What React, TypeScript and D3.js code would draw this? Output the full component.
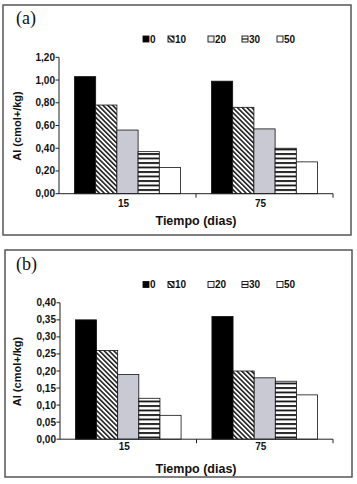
import React from "react";
import * as d3 from "d3";

const categories = ["15", "75"];
const seriesKeys = ["0", "10", "20", "30", "50"];
const valuesA = [
  [1.03, 0.78, 0.56, 0.37, 0.23],
  [0.99, 0.76, 0.57, 0.4, 0.28],
];
const valuesB = [
  [0.35, 0.26, 0.19, 0.12, 0.07],
  [0.36, 0.2, 0.18, 0.17, 0.13],
];
const ticksA = [0, 0.2, 0.4, 0.6, 0.8, 1.0, 1.2];
const ticksB = [0, 0.05, 0.1, 0.15, 0.2, 0.25, 0.3, 0.35, 0.4];

const fills = ["#000", "url(#hatch)", "#c9c9d4", "url(#hstripe)", "#fff"];
const legendFills = ["#000", "url(#hatch)", "#eeeef2", "#fff", "#fff"];
const legendX = [143, 168, 208, 242, 277];
const fmt = (v: number) => d3.format(".2f")(v).replace(".", ",");
const font = "'Liberation Sans', Arial, sans-serif";

type PanelProps = {
  top: number;
  label: string;
  values: number[][];
  ticks: number[];
  border: { x0: number; x1: number; y0: number; y1: number };
  axisX0: number;
  catDy: number;
  titleY: number;
};

function Panel({ top, label, values, ticks, border, axisX0, catDy, titleY }: PanelProps) {
  const yMax = ticks[ticks.length - 1];
  const y = d3.scaleLinear().domain([0, yMax]).range([top + 193.7, top + 57.3]);
  const x0 = d3.scaleBand().domain(categories).range([axisX0, 333]).padding(0);
  const x1 = d3
    .scaleBand()
    .domain(seriesKeys)
    .range([0, x0.bandwidth()])
    .paddingInner(0)
    .paddingOuter(0.73);
  const y0 = y(0);
  return (
    <g>
      <rect
        x={border.x0}
        y={border.y0}
        width={border.x1 - border.x0}
        height={border.y1 - border.y0}
        fill="#fff"
        stroke="#555"
        strokeWidth={1.5}
      />
      <text x={16} y={top + 24} fontFamily="'Liberation Serif', 'Times New Roman', serif" fontSize={18} fill="#111">
        {label}
      </text>
      {/* legend */}
      {seriesKeys.map((k, i) => (
        <g key={k}>
          <rect x={legendX[i]} y={top + 36} width={6} height={6} fill={legendFills[i]} stroke="#111" strokeWidth={0.9} />
          {i === 3 && <line x1={legendX[i]} x2={legendX[i] + 6} y1={top + 39} y2={top + 39} stroke="#111" strokeWidth={1.2} />}
          <text x={legendX[i] + 7} y={top + 42.5} fontFamily={font} fontWeight="bold" fontSize={10} fill="#111">
            {k}
          </text>
        </g>
      ))}
      {/* bars */}
      {categories.map((c, ci) => (
        <g key={c} transform={`translate(${x0(c)},0)`}>
          {seriesKeys.map((k, si) => {
            const v = values[ci][si];
            return (
              <rect
                key={k}
                x={x1(k)}
                y={y(v)}
                width={x1.bandwidth()}
                height={y0 - y(v)}
                fill={fills[si]}
                stroke="#111"
                strokeWidth={0.8}
              />
            );
          })}
        </g>
      ))}
      {/* y axis */}
      <line x1={axisX0} x2={axisX0} y1={y(yMax)} y2={y0} stroke="#222" strokeWidth={1} />
      {ticks.map((t) => (
        <g key={t}>
          <line x1={axisX0 - 3.5} x2={axisX0} y1={y(t)} y2={y(t)} stroke="#222" strokeWidth={1} />
          <text
            x={axisX0 - 4}
            y={y(t)}
            dy="0.35em"
            textAnchor="end"
            fontFamily={font}
            fontWeight="bold"
            fontSize={10}
            fill="#111"
          >
            {fmt(t)}
          </text>
        </g>
      ))}
      {/* x axis */}
      <line x1={axisX0} x2={333} y1={y0} y2={y0} stroke="#222" strokeWidth={1} />
      {categories.map((c) => (
        <g key={c}>
          <line
            x1={(x0(c) as number) + x0.bandwidth()}
            x2={(x0(c) as number) + x0.bandwidth()}
            y1={y0}
            y2={y0 + 4}
            stroke="#222"
            strokeWidth={1}
          />
          <text
            x={(x0(c) as number) + x0.bandwidth() / 2 - 4}
            y={y0 + catDy}
            textAnchor="middle"
            fontFamily={font}
            fontWeight="bold"
            fontSize={10}
            fill="#111"
          >
            {c}
          </text>
        </g>
      ))}
      <text
        x={196}
        y={top + titleY}
        textAnchor="middle"
        fontFamily={font}
        fontWeight="bold"
        fontSize={12.5}
        fill="#111"
      >
        Tiempo (dias)
      </text>
      <text
        transform={`translate(${21},${top + 126}) rotate(-90)`}
        textAnchor="middle"
        fontFamily={font}
        fontWeight="bold"
        fontSize={11}
        fill="#111"
      >
        Al (cmol+/kg)
      </text>
    </g>
  );
}

export default function App() {
  return (
    <div style={{ position: "absolute", left: 0, top: 0 }}>
      <svg width={357} height={484} style={{ display: "block", background: "#fff" }}>
        <defs>
          <pattern id="hatch" width={3.4} height={3.4} patternUnits="userSpaceOnUse" patternTransform="rotate(-45)">
            <rect width={3.4} height={3.4} fill="#fff" />
            <line x1={0.8} x2={0.8} y1={0} y2={3.4} stroke="#111" strokeWidth={1.5} />
          </pattern>
          <pattern id="hstripe" width={4.5} height={4.5} patternUnits="userSpaceOnUse">
            <rect width={4.5} height={4.5} fill="#fff" />
            <line x1={0} x2={4.5} y1={1} y2={1} stroke="#111" strokeWidth={1.8} />
          </pattern>
        </defs>
        <Panel
          top={0}
          label="(a)"
          values={valuesA}
          ticks={ticksA}
          border={{ x0: 3, x1: 351, y0: 5, y1: 235 }}
          axisX0={59}
          catDy={13.5}
          titleY={224.5}
        />
        <Panel
          top={245.5}
          label="(b)"
          values={valuesB}
          ticks={ticksB}
          border={{ x0: 5, x1: 352, y0: 250, y1: 477 }}
          axisX0={60}
          catDy={11}
          titleY={227}
        />
      </svg>
    </div>
  );
}
